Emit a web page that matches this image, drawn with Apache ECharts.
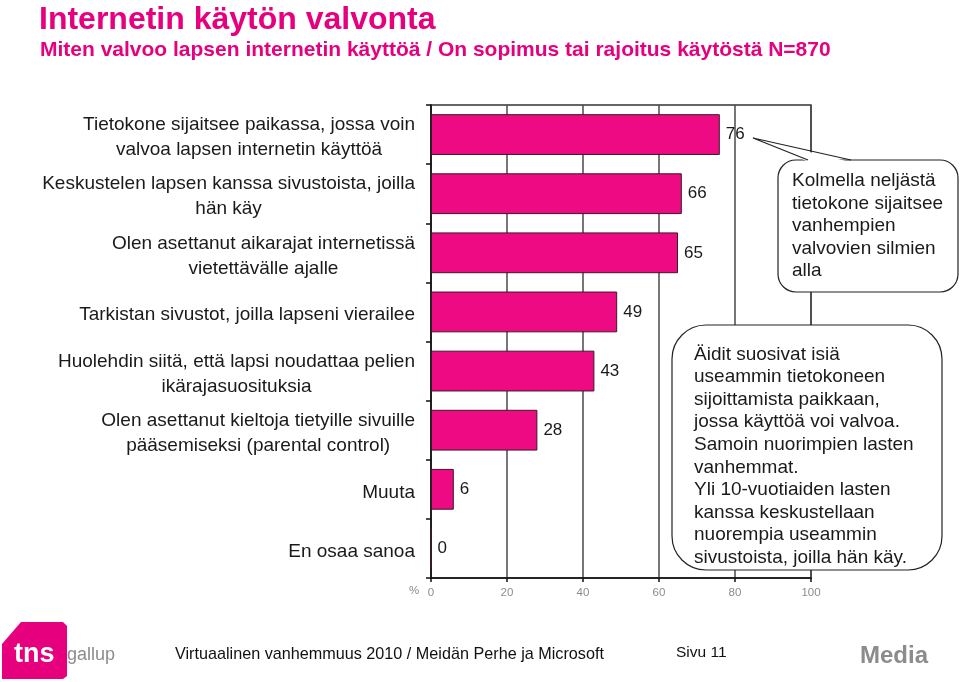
<!DOCTYPE html>
<html>
<head>
<meta charset="utf-8">
<script src="https://cdn.jsdelivr.net/npm/echarts@6/dist/echarts.min.js"></script>
<style>
  html, body { margin: 0; padding: 0; background: #ffffff; }
  #chart { width: 960px; height: 682px; }
</style>
</head>
<body>
<div id="chart"></div>
<script>
const categories = [
  "Tietokone sijaitsee paikassa, jossa voin\nvalvoa lapsen internetin käyttöä",
  "Keskustelen lapsen kanssa sivustoista, joilla\nhän käy",
  "Olen asettanut aikarajat internetissä\nvietettävälle ajalle",
  "Tarkistan sivustot, joilla lapseni vierailee",
  "Huolehdin siitä, että lapsi noudattaa pelien\nikärajasuosituksia",
  "Olen asettanut kieltoja tietyille sivuille\npääsemiseksi (parental control)",
  "Muuta",
  "En osaa sanoa"
];
const values = [76, 66, 65, 49, 43, 28, 6, 0];
const xTicks = [0, 20, 40, 60, 80, 100];

const titleText = "Internetin käytön valvonta";
const subtitleText = "Miten valvoo lapsen internetin käyttöä / On sopimus tai rajoitus käytöstä N=870";
const note1 = "Kolmella neljästä\ntietokone sijaitsee\nvanhempien\nvalvovien silmien\nalla";
const note2 = "Äidit suosivat isiä\nuseammin tietokoneen\nsijoittamista paikkaan,\njossa käyttöä voi valvoa.\nSamoin nuorimpien lasten\nvanhemmat.\nYli 10-vuotiaiden lasten\nkanssa keskustellaan\nnuorempia useammin\nsivustoista, joilla hän käy.";
const footerText = "Virtuaalinen vanhemmuus 2010 / Meidän Perhe ja Microsoft";
const pageText = "Sivu 11";

const FONT = "'Liberation Sans', Arial, Helvetica, sans-serif";
const MAGENTA = "#E6007E";

const chart = echarts.init(document.getElementById('chart'), null, { renderer: 'canvas' });

chart.setOption({
  backgroundColor: '#ffffff',
  animation: false,
  textStyle: { fontFamily: FONT },
  title: [
    {
      text: titleText,
      left: 34, top: -1,
      textStyle: { color: MAGENTA, fontSize: 32, fontWeight: 'bold', fontFamily: FONT }
    },
    {
      text: subtitleText,
      left: 35, top: 35,
      textStyle: { color: MAGENTA, fontSize: 21, fontWeight: 'bold', fontFamily: FONT }
    }
  ],
  grid: {
    left: 431, right: 149, top: 105, bottom: 104,
    show: true, borderColor: '#333333', borderWidth: 1.5,
    containLabel: false
  },
  xAxis: {
    type: 'value', min: 0, max: 100, interval: 20,
    axisLine: { show: true, lineStyle: { color: '#111111', width: 1.5 } },
    axisTick: { show: true, length: 4, lineStyle: { color: '#111111', width: 1.5 } },
    axisLabel: {
      color: '#8c8c8c', fontSize: 11.5, margin: 9,
      formatter: v => xTicks.includes(v) ? String(v) : ''
    },
    splitLine: { show: true, lineStyle: { color: '#4a4a4a', width: 1.5 } }
  },
  yAxis: {
    type: 'category', inverse: true, data: categories,
    axisLine: { show: true, lineStyle: { color: '#111111', width: 1.5 } },
    axisTick: { show: true, length: 5, lineStyle: { color: '#111111', width: 1.5 } },
    axisLabel: {
      margin: 16, fontSize: 19, color: '#1a1a1a', lineHeight: 25,
      padding: [6, 0, 0, 0],
      formatter: v => v.split('\n').map(l => '{c|' + l + '}').join('\n'),
      rich: { c: { align: 'center', fontSize: 19, lineHeight: 25, color: '#1a1a1a', fontFamily: FONT } }
    },
    splitLine: { show: false }
  },
  series: [{
    type: 'bar',
    data: values,
    barCategoryGap: '31%',
    itemStyle: { color: '#EE0A82', borderColor: '#3a1a2a', borderWidth: 1 },
    label: {
      show: true, position: 'right', distance: 6,
      color: '#1a1a1a', fontSize: 17, fontFamily: FONT
    },
    z: 3
  }],
  graphic: [
    // "%" unit label
    { type: 'text', x: 409, y: 585, z: 100,
      style: { text: '%', fill: '#8c8c8c', fontSize: 11.5, fontFamily: FONT } },
    // Callout 1
    { type: 'rect', z: 100,
      shape: { x: 778, y: 160, width: 180, height: 132, r: 18 },
      style: { fill: '#ffffff', stroke: '#222222', lineWidth: 1.2 } },
    { type: 'polygon', z: 101,
      shape: { points: [[809, 162], [753, 138], [850, 162]] },
      style: { fill: '#ffffff', stroke: null } },
    { type: 'polyline', z: 102,
      shape: { points: [[808, 160], [753, 138], [851, 160]] },
      style: { stroke: '#222222', lineWidth: 1.2, fill: null } },
    { type: 'text', x: 792, y: 170, z: 103,
      style: { text: note1, fill: '#1a1a1a', fontSize: 19, lineHeight: 22.5, fontFamily: FONT } },
    // Callout 2
    { type: 'rect', z: 100,
      shape: { x: 672, y: 325, width: 270, height: 245, r: 34 },
      style: { fill: '#ffffff', stroke: '#222222', lineWidth: 1.2 } },
    { type: 'text', x: 694, y: 343, z: 103,
      style: { text: note2, fill: '#1a1a1a', fontSize: 19, lineHeight: 22.6, fontFamily: FONT } },
    // Footer logo
    { type: 'polygon', z: 100,
      shape: { points: [[21, 622], [63, 622], [67, 626], [67, 676], [63, 679], [2, 679], [2, 644]] },
      style: { fill: MAGENTA } },
    { type: 'text', x: 14, y: 641, z: 101,
      style: { text: 'tns', fill: '#ffffff', fontSize: 27, fontWeight: 'bold', fontFamily: FONT } },
    { type: 'text', x: 67, y: 646, z: 101,
      style: { text: 'gallup', fill: '#8c8c8c', fontSize: 18, fontFamily: FONT } },
    { type: 'text', x: 175, y: 647, z: 100,
      style: { text: footerText, fill: '#111111', fontSize: 16.2, fontFamily: FONT } },
    { type: 'text', x: 676, y: 645, z: 100,
      style: { text: pageText, fill: '#111111', fontSize: 15.5, fontFamily: FONT } },
    { type: 'text', x: 860, y: 644, z: 100,
      style: { text: 'Media', fill: '#8c8c8c', fontSize: 24, fontWeight: 'bold', fontFamily: FONT } }
  ]
});
</script>
</body>
</html>
